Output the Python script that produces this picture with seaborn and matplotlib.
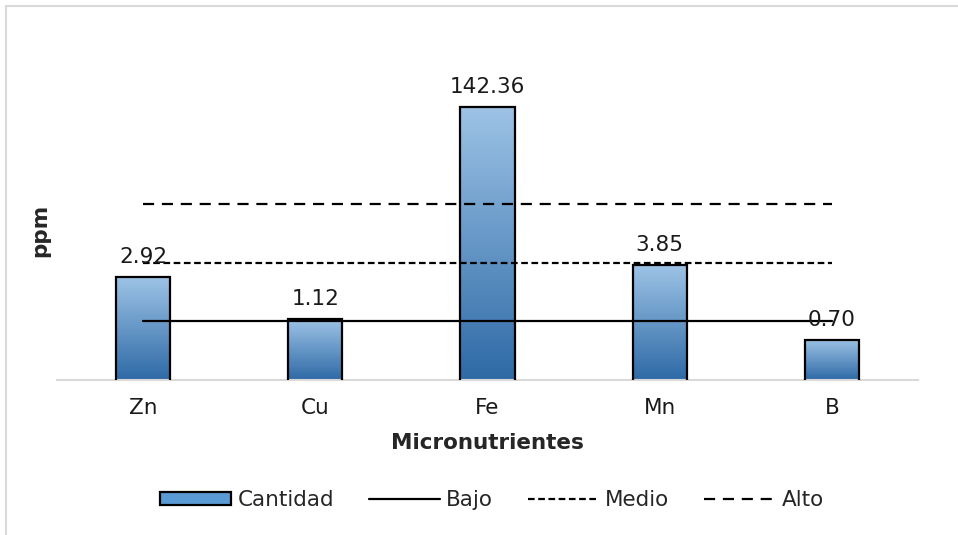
import matplotlib.pyplot as plt
import numpy as np
import seaborn as sns
from matplotlib.colors import LinearSegmentedColormap
from matplotlib.lines import Line2D
from matplotlib.patches import Patch, Rectangle

# Datos
categorias = ["Zn", "Cu", "Fe", "Mn", "B"]
cantidad = [2.92, 1.12, 142.36, 3.85, 0.70]
etiquetas = ["2.92", "1.12", "142.36", "3.85", "0.70"]
bajo = [1.07] * 5
medio = [4.0] * 5
alto = [15.5] * 5

_FONT = 15.5
_Y_LIM = (0.278, 828)
_AZUL_CLARO = "#9dc3e6"
_AZUL_OSCURO = "#2e6aa6"

sns.set_theme(style="white")
plt.rcParams["font.family"] = ["DejaVu Sans"]

fig = plt.figure(figsize=(9.58, 5.35), dpi=100)
ax = fig.add_axes([57 / 958, 1 - 380 / 535, (918 - 57) / 958, 350 / 535])

sns.barplot(x=categorias, y=cantidad, color=_AZUL_CLARO, width=0.314,
            edgecolor="black", linewidth=1.6, ax=ax, zorder=2)
ax.set_yscale("log")
ax.set_ylim(*_Y_LIM)
ax.set_xlim(-0.5, 4.5)

# Líneas de referencia
x = np.arange(len(categorias))
ax.plot(x, bajo, color="black", lw=1.6, zorder=4, label="Bajo")
ax.plot(x, medio, color="black", lw=1.6, ls=(0, (3, 1.6)), zorder=4, label="Medio")
ax.plot(x, alto, color="black", lw=1.6, ls=(0, (5, 3.5)), zorder=4, label="Alto")

# Relleno degradado de las barras
cmap = LinearSegmentedColormap.from_list("azul", [_AZUL_OSCURO, _AZUL_CLARO])
grad = np.linspace(0, 1, 256).reshape(-1, 1)
ax.set_autoscale_on(False)
lo, hi = np.log10(_Y_LIM)
for patch in ax.patches:
    x0 = patch.get_x()
    w = patch.get_width()
    h = patch.get_height()
    ax0 = (x0 + 0.5) / 5
    ax1 = (x0 + w + 0.5) / 5
    top = (np.log10(h) - lo) / (hi - lo)
    im = ax.imshow(grad, cmap=cmap, origin="lower", aspect="auto",
                   extent=(ax0, ax1, 0, top), transform=ax.transAxes,
                   zorder=2.5, interpolation="bicubic")
    im.set_clip_path(patch)
    patch.set_facecolor("none")
    patch.set_zorder(3)

# Etiquetas de datos
for i, (v, txt) in enumerate(zip(cantidad, etiquetas)):
    ax.annotate(txt, (i, v), xytext=(0, 7), textcoords="offset points",
                ha="center", va="bottom", fontsize=_FONT, color="#1a1a1a", zorder=5)

ax.set_ylim(*_Y_LIM)
ax.set_xlim(-0.5, 4.5)
ax.set_yticks([])
ax.yaxis.set_minor_locator(plt.NullLocator())
for side in ["left", "right", "top"]:
    ax.spines[side].set_visible(False)
ax.spines["bottom"].set_color("#d9d9d9")
ax.spines["bottom"].set_linewidth(1.5)
ax.tick_params(axis="x", length=0, labelsize=_FONT, pad=13, colors="#1a1a1a")
ax.set_xlabel("Micronutrientes", fontsize=_FONT, fontweight="bold", labelpad=11)
ax.set_ylabel("")
fig.text(40 / 958, 1 - 230 / 535, "ppm", rotation=90, ha="center", va="center",
         fontsize=_FONT, fontweight="bold")

handles = [
    Patch(facecolor="#5b9bd5", edgecolor="black", linewidth=1.6, label="Cantidad"),
    Line2D([], [], color="black", lw=1.6, label="Bajo"),
    Line2D([], [], color="black", lw=1.6, ls=(0, (3, 1.6)), label="Medio"),
    Line2D([], [], color="black", lw=1.6, ls=(0, (5, 3.5)), label="Alto"),
]
fig.legend(handles=handles, loc="center", bbox_to_anchor=(492 / 958, 1 - 500 / 535),
           ncol=4, frameon=False, fontsize=_FONT, handlelength=3.3,
           handleheight=0.55, handletextpad=0.3, columnspacing=1.6)

# Borde del gráfico
fig.patches.append(Rectangle((6 / 958, -0.1), 1.1, 1 - 6 / 535 + 0.1,
                             transform=fig.transFigure, fill=False,
                             edgecolor="#d9d9d9", linewidth=1.5))

fig.savefig("out.png", dpi=100)
plt.close(fig)
